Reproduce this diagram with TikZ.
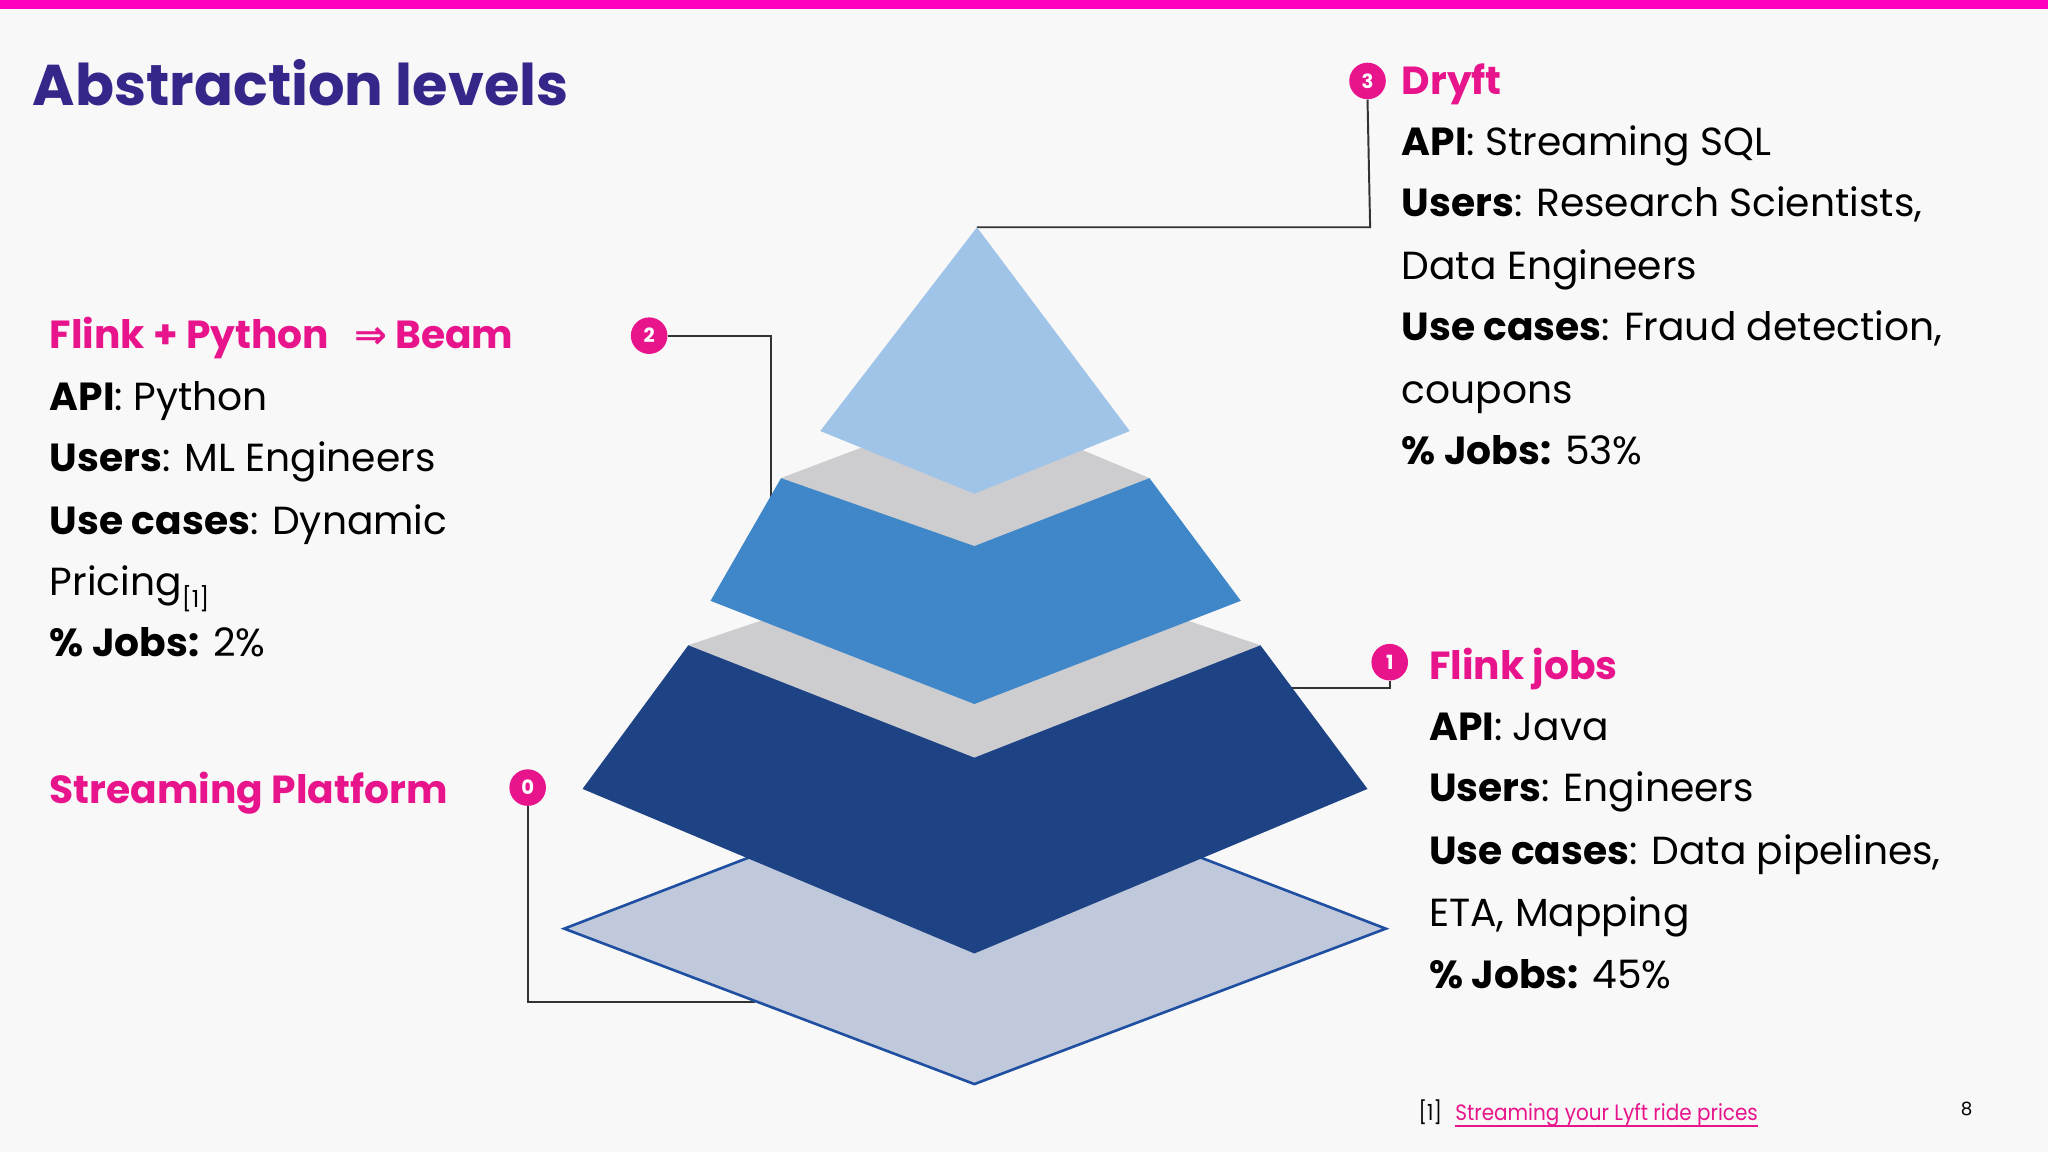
\documentclass[tikz,border=0pt]{standalone}
\usepackage{fontspec}
\setmainfont{Poppins}
\newfontfamily\dv{DejaVu Sans}
\definecolor{mag}{HTML}{E8148C}
\definecolor{bar}{HTML}{FF00BF}
\definecolor{ttl}{HTML}{35268A}
\definecolor{topc}{HTML}{A0C4E8}
\definecolor{midc}{HTML}{3F87C8}
\definecolor{darkc}{HTML}{1E4385}
\definecolor{grayc}{HTML}{CDCDD0}
\definecolor{basec}{HTML}{C0C8DC}
\definecolor{basel}{HTML}{1E4FA0}
\definecolor{bg}{HTML}{F8F8F8}
\tikzset{
 txt/.style={anchor=base west,inner sep=0pt,font=\fontsize{30}{40}\selectfont},
 head/.style={txt,text=mag,font=\fontsize{30}{40}\selectfont\bfseries},
 num/.style={circle,fill=mag,text=white,inner sep=0pt,minimum size=28pt,font=\fontsize{15}{15}\selectfont\bfseries},
 conn/.style={draw=black!80,line width=1.5pt},
}
\begin{document}
\begin{tikzpicture}[x=1pt,y=-1pt]
\fill[bg] (0,0) rectangle (1568,882);
\useasboundingbox (0,0) rectangle (1568,882);
\fill[bar] (0,0) rectangle (1568,7);
\node[anchor=base west,inner sep=0pt,text=ttl,font=\fontsize{44}{52}\selectfont\bfseries] (title) at (25,81) {Abstraction levels};
\node[num] (c3) at (1047,62) {3};
\node[num] (c2) at (497,257) {2};
\node[num] (c1) at (1064,507) {1};
\node[num] (c0) at (404,603) {0};
\coordinate (p3) at (748,174); \coordinate (p2) at (590,395);
\coordinate (p1) at (975,527); \coordinate (p0) at (578,767);
\draw[conn] (p3) -- (1049,174) -- (c3.south);
\draw[conn] (c2.east) -- (590,257) -- (p2);
\draw[conn] (p1) -- (1064,527) -- (c1.south);
\draw[conn] (c0.south) -- (404,767) -- (p0);
% pyramid
\filldraw[fill=basec,draw=basel,line width=2pt] (432,711) -- (746,590) -- (1061,711) -- (746,830) -- cycle;
\fill[darkc] (446,604) -- (527,494) -- (965,494) -- (1047,604) -- (746,730) -- cycle;
\fill[grayc] (527,494) -- (746,420) -- (965,494) -- (746,580) -- cycle;
\fill[midc] (544,460) -- (598,366) -- (880,366) -- (950,460) -- (746,539) -- cycle;
\fill[grayc] (598,366) -- (746,310) -- (880,366) -- (746,418) -- cycle;
\fill[topc] (748,174) -- (628,330) -- (746,378) -- (865,330) -- cycle;
% left block
\node[head] (l1) at (38,267) {Flink + Python\ \ \ {\dv ⇒} Beam};
\node[txt] (l2) at (38,314) {\textbf{API}: Python};
\node[txt] (l3) at (38,361) {\textbf{Users}: ML Engineers};
\node[txt] (l4) at (38,409) {\textbf{Use cases}: Dynamic};
\node[txt] (l5) at (38,456) {Pricing\raisebox{-9pt}{\fontsize{18}{18}\selectfont[1]}};
\node[txt] (l6) at (38,503) {\textbf{\% Jobs:} 2\%};
% dryft
\node[head] (d1) at (1073,72) {Dryft};
\node[txt] (d2) at (1073,119) {\textbf{API}: Streaming SQL};
\node[txt] (d3) at (1073,166) {\textbf{Users}: Research Scientists,};
\node[txt] (d4) at (1073,214) {Data Engineers};
\node[txt] (d5) at (1073,261) {\textbf{Use cases}: Fraud detection,};
\node[txt] (d6) at (1073,309) {coupons};
\node[txt] (d7) at (1073,356) {\textbf{\% Jobs:} 53\%};
% flink jobs
\node[head] (f1) at (1094,520) {Flink jobs};
\node[txt] (f2) at (1094,567) {\textbf{API}: Java};
\node[txt] (f3) at (1094,614) {\textbf{Users}: Engineers};
\node[txt] (f4) at (1094,662) {\textbf{Use cases}: Data pipelines,};
\node[txt] (f5) at (1094,709) {ETA, Mapping};
\node[txt] (f6) at (1094,757) {\textbf{\% Jobs:} 45\%};
% streaming platform
\node[head] (s1) at (38,615) {Streaming Platform};
% footnote
\node[anchor=base west,inner sep=0pt,font=\fontsize{17}{20}\selectfont\addfontfeatures{FakeStretch=0.9}] (fn) at (1086,858) {[1]};
\node[anchor=base west,inner sep=0pt,text=mag,font=\fontsize{17}{20}\selectfont\addfontfeatures{FakeStretch=0.9}] (link) at (1114,858) {Streaming your Lyft ride prices};
\draw[mag,line width=1pt] ([yshift=-4pt]link.base west) -- ([yshift=-4pt]link.base east);
\node[anchor=base west,inner sep=0pt,font=\fontsize{14}{18}\selectfont] (pg) at (1501,854) {8};
\end{tikzpicture}
\end{document}
